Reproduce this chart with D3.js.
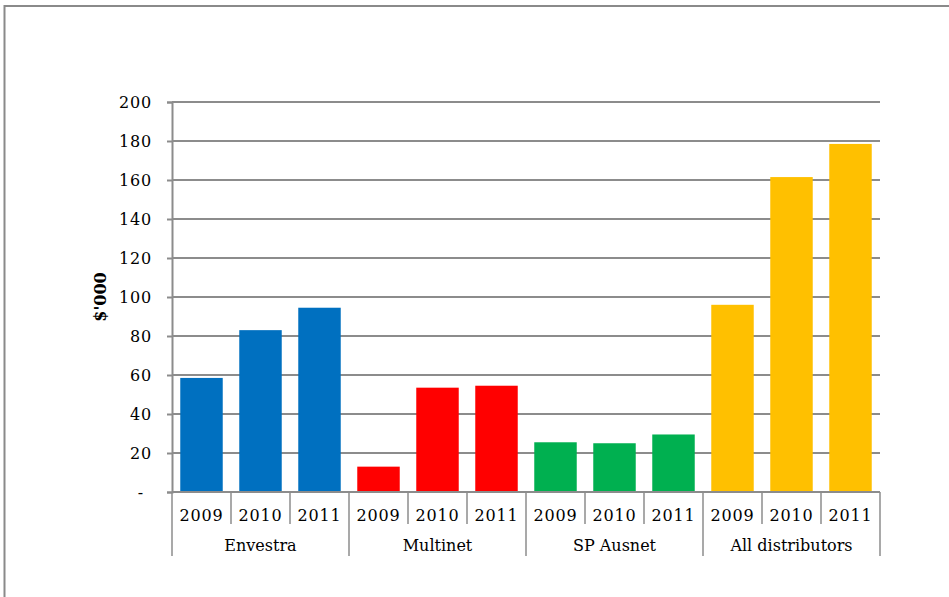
<!DOCTYPE html>
<html>
<head>
<meta charset="utf-8">
<script src="https://cdn.jsdelivr.net/npm/d3@7"></script>
<style>
  body { margin: 0; background: #fff; }
  text { font-family: Georgia, "DejaVu Serif", serif; fill: #000; }
</style>
</head>
<body>
<svg width="949" height="597"></svg>
<script>
var distributors = ["Envestra", "Multinet", "SP Ausnet", "All distributors"];
var years = ["2009", "2010", "2011"];
var colors = ["#0070C0", "#FF0000", "#00B050", "#FFC000"];

// values in $'000, one array per distributor (2009, 2010, 2011)
var envestra = [58.5, 83, 94.5];
var multinet = [13, 53.5, 54.5];
var spAusnet = [25.5, 25, 29.5];
var allDistributors = [96, 161.5, 178.5];

var yTicks = [0, 20, 40, 60, 80, 100, 120, 140, 160, 180, 200];

var values = [envestra, multinet, spAusnet, allDistributors];

var svg = d3.select("svg");

// outer frame
svg.append("rect")
    .attr("x", 4.5).attr("y", 6)
    .attr("width", 1000).attr("height", 700)
    .attr("fill", "none")
    .attr("stroke", "#8a8a8a")
    .attr("stroke-width", 2);

// plot area (note: "top" is taken by window.top)
var pLeft = 172, pRight = 880, pTop = 102, pBottom = 492;

var y = d3.scaleLinear().domain([0, 200]).range([pBottom, pTop]);
var xGroup = d3.scaleBand().domain(distributors).range([pLeft, pRight]);
// one slot per year inside a group, bars are inset inside the slot
var xYear = d3.scaleBand().domain(years).range([0, xGroup.bandwidth()]);
var barW = xYear.bandwidth() * 0.72;

// gridlines
svg.append("g")
    .selectAll("line")
    .data(yTicks.slice(1))
    .enter()
    .append("line")
    .attr("x1", pLeft).attr("x2", pRight)
    .attr("y1", function (d) { return y(d); })
    .attr("y2", function (d) { return y(d); })
    .attr("stroke", "#8c8c8c")
    .attr("stroke-width", 2);

// bars
var groups = svg.selectAll("g.grp")
    .data(distributors)
    .enter()
    .append("g")
    .attr("class", "grp")
    .attr("transform", function (d) { return "translate(" + xGroup(d) + ",0)"; });

groups.each(function (g, gi) {
    d3.select(this).selectAll("rect")
        .data(values[gi])
        .enter()
        .append("rect")
        .attr("x", function (d, i) { return xYear(years[i]) + (xYear.bandwidth() - barW) / 2; })
        .attr("width", barW)
        .attr("y", function (d) { return y(d); })
        .attr("height", function (d) { return y(0) - y(d); })
        .attr("fill", colors[gi]);
});

// y axis
var yAxis = d3.axisLeft(y)
    .tickValues(yTicks)
    .tickSize(5)
    .tickPadding(15)
    .tickFormat(function (d) { return d === 0 ? "-" : d; });

var yg = svg.append("g")
    .attr("transform", "translate(" + pLeft + ",0)")
    .call(yAxis);
yg.select(".domain").attr("stroke", "#8c8c8c").attr("stroke-width", 2);
yg.selectAll(".tick line").attr("stroke", "#8c8c8c").attr("stroke-width", 2);
yg.selectAll(".tick text")
    .attr("font-size", 16)
    .attr("letter-spacing", 0.8)
    .attr("font-family", "Georgia, 'DejaVu Serif', serif");
yg.selectAll(".tick text").filter(function (d) { return d === 0; })
    .attr("dx", -8);

// x axis line
svg.append("line")
    .attr("x1", pLeft).attr("x2", pRight)
    .attr("y1", y(0)).attr("y2", y(0))
    .attr("stroke", "#8c8c8c")
    .attr("stroke-width", 2);

// year separators and labels
var xa = svg.append("g").attr("fill", "none");
distributors.forEach(function (g) {
    years.forEach(function (yr, i) {
        if (i > 0) {
            xa.append("line")
                .attr("x1", xGroup(g) + xYear(yr))
                .attr("x2", xGroup(g) + xYear(yr))
                .attr("y1", y(0)).attr("y2", y(0) + 32)
                .attr("stroke", "#8c8c8c").attr("stroke-width", 1.5);
        }
        svg.append("text")
            .attr("x", xGroup(g) + xYear(yr) + xYear.bandwidth() / 2)
            .attr("y", y(0) + 29)
            .attr("text-anchor", "middle")
            .attr("font-size", 16)
            .attr("letter-spacing", 0.8)
            .text(yr);
    });
    svg.append("text")
        .attr("x", xGroup(g) + xGroup.bandwidth() / 2)
        .attr("y", y(0) + 59)
        .attr("text-anchor", "middle")
        .attr("font-size", 16)
        .text(g);
});

// group separators (including outer edges)
xa.selectAll("line.sep")
    .data(distributors.map(function (g) { return xGroup(g); }).concat([pRight]))
    .enter()
    .append("line")
    .attr("class", "sep")
    .attr("x1", function (d) { return d; })
    .attr("x2", function (d) { return d; })
    .attr("y1", y(0)).attr("y2", y(0) + 64)
    .attr("stroke", "#8c8c8c").attr("stroke-width", 1.5);

// y axis title
svg.append("text")
    .attr("transform", "translate(106," + y(100) + ") rotate(-90)")
    .attr("text-anchor", "middle")
    .attr("font-size", 16)
    .attr("font-weight", "bold")
    .text("$'000");
</script>
</body>
</html>
